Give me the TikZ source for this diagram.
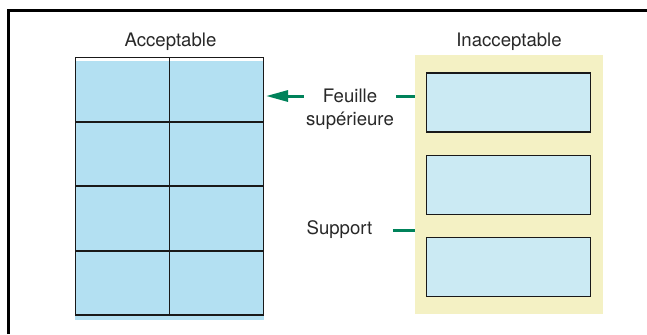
\documentclass[tikz,border=0pt]{standalone}
\usepackage{fontspec}
\setmainfont{TeX Gyre Heros}
\usetikzlibrary{arrows.meta}

\definecolor{bleuplanche}{RGB}{179,224,242}
\definecolor{bleuetiquette}{RGB}{203,234,243}
\definecolor{jaunesupport}{RGB}{244,241,196}
\definecolor{vertrepere}{RGB}{0,130,90}
\definecolor{gristexte}{RGB}{40,40,40}

\tikzset{
  legende/.style={font=\fontsize{9.3}{11.5}\selectfont, text=gristexte, inner sep=1pt},
  trait/.style={line width=.6pt, black!90},
  repere/.style={line width=1.5pt, vertrepere},
}

\newcommand\PMEtiquette[1] {
  \draw[trait, fill=bleuetiquette] (426.3, #1) rectangle ++(164, 59) ;
}

\begin{document}
\begin{tikzpicture}[x=.5pt, y=-.5pt, >={Triangle[length=11pt, width=5.5pt]}]
   \useasboundingbox (0, 0) rectangle (647, 334) ;
   \draw[line width=1.5pt, line join=miter] (8.7, 334) -- (8.7, 10.5) -- (647, 10.5) ;
   \node[legende, anchor=base] (acceptable) at (170.5, 46) {Acceptable} ;
   \node[legende, anchor=base] (inacceptable) at (509, 46) {Inacceptable} ;
   \fill[bleuplanche] (75, 61) rectangle (263.5, 320) ;
   \draw[trait] (75.5, 57.5) rectangle (263.5, 315) ;
   \draw[trait] (169.5, 57.5) -- (169.5, 315) ;
   \foreach \y in {122, 186, 251}
     \draw[trait] (75.5, \y) -- (263.5, \y) ;
   \fill[jaunesupport] (415, 55) rectangle (602.7, 313.7) ;
   \coordinate (support nw) at (415, 55) ;
   \PMEtiquette{73}
   \PMEtiquette{155.3}
   \PMEtiquette{237.3}
   \node[legende, align=center] (feuille) at (350, 108.8) {Feuille\\supérieure} ;
   \node[legende, anchor=base] (support) at (339.5, 234) {Support} ;
   \coordinate (pointe) at (266, 96) ;
   \draw[repere, ->] (feuille.west |- pointe) -- (pointe) ;
   \draw[repere] (feuille.east |- pointe) -- (support nw |- pointe) ;
   \draw[repere] ([xshift=9pt, yshift=-.5pt]support.east) -- ([yshift=-.5pt]support.east -| support nw) ;
\end{tikzpicture}
\end{document}
